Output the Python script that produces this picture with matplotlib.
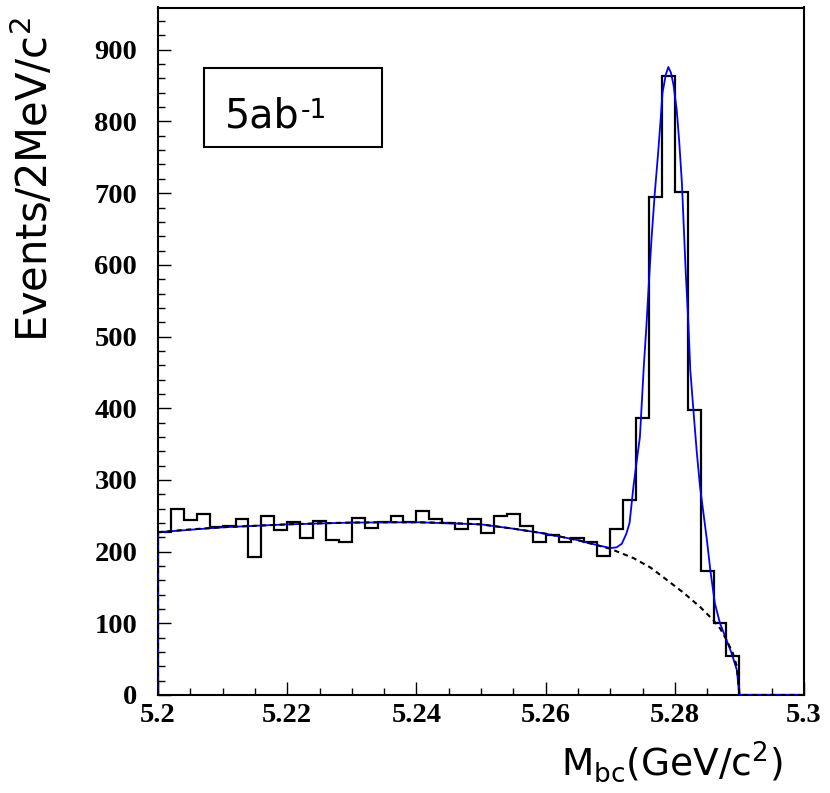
import matplotlib
matplotlib.use("Agg")
import matplotlib.pyplot as plt
from matplotlib.ticker import MultipleLocator, FixedLocator
from matplotlib.patches import Rectangle
import numpy as np

plt.rcParams['mathtext.default'] = 'regular'

# ---------------- data ----------------
bin_low = 5.20
bin_width = 0.002
counts = [227, 260, 244, 252, 234, 236, 245, 193, 249, 230,
          241, 219, 243, 216, 214, 247, 233, 241, 249, 241,
          256, 246, 240, 232, 245, 226, 249, 253, 236, 214,
          223, 214, 219, 213, 194, 232, 272, 387, 695, 864,
          702, 398, 173, 101, 55, 0, 0, 0, 0, 0]

# total fit (signal + background)
fit_x = [5.200, 5.210, 5.220, 5.230, 5.240, 5.250, 5.255, 5.260, 5.265, 5.268,
         5.2700, 5.2710, 5.2718, 5.2725, 5.2730, 5.2736, 5.2741, 5.2746, 5.2749, 5.2752,
         5.2756, 5.2760, 5.2764, 5.2769, 5.2774, 5.2778, 5.2781, 5.2786, 5.2790, 5.2794,
         5.2798, 5.2803, 5.2807, 5.2811, 5.2814, 5.2817, 5.2821, 5.2824, 5.2829, 5.2834,
         5.2839, 5.2845, 5.2850, 5.2855, 5.2862, 5.2870, 5.2880, 5.2888, 5.2896, 5.2900,
         5.3000]
fit_y = [227, 234, 238, 240.5, 241, 238, 232, 225, 216, 209,
         205, 206, 211, 225, 240, 291, 326, 360, 409, 458,
         514, 577, 637, 700, 754, 802, 840, 865, 876, 868,
         851, 816, 770, 714, 651, 588, 519, 453, 395, 339,
         291, 249, 214, 174, 128, 100, 77, 58, 35, 0,
         0]

# background (dashed black curve)
bg_x = [5.200, 5.205, 5.210, 5.215, 5.220, 5.225, 5.230, 5.235, 5.240, 5.245,
        5.250, 5.255, 5.260, 5.265, 5.270, 5.2736, 5.2762, 5.2787, 5.2813, 5.2839,
        5.2859, 5.2870, 5.2880, 5.2890, 5.2896, 5.2900, 5.3000]
bg_y = [227, 231, 234, 236, 238, 239.5, 240.5, 241, 241, 240,
        238, 232, 225, 216, 204, 191, 178, 161, 143, 123,
        105, 93, 77, 58, 40, 0, 0]

x_ticks = [5.20, 5.22, 5.24, 5.26, 5.28, 5.30]
x_tick_labels = ['5.2', '5.22', '5.24', '5.26', '5.28', '5.3']
y_ticks = [0, 100, 200, 300, 400, 500, 600, 700, 800, 900]

ylabel = r'Events/2MeV/c$^{2}$'
xlabel = r'M$_{bc}$(GeV/c$^{2}$)'
lumi_main = '5ab'
lumi_sup = '-1'

# ---------------- figure ----------------
W, H = 830, 793
fig = plt.figure(figsize=(W / 100, H / 100), dpi=100)
ax = fig.add_axes([158 / W, 1 - 695 / H, (804 - 158) / W, (695 - 7.5) / H])

edges = bin_low + bin_width * np.arange(len(counts) + 1)
ax.stairs(counts, edges, color='black', linewidth=1.6, baseline=0, zorder=3)

ax.plot(fit_x, fit_y, color='#0000ff', linewidth=1.3, zorder=4)
ax.plot([fit_x[0], fit_x[0]], [0, fit_y[0]], color='#0000ff', linewidth=1.3, zorder=4)

ax.plot(bg_x, bg_y, color='black', linewidth=1.5, linestyle=(0, (2.5, 2.0)), zorder=5)
ax.plot([bg_x[0], bg_x[0]], [0, bg_y[0]], color='black', linewidth=1.5,
        linestyle=(0, (2.5, 2.0)), zorder=5)

ax.set_xlim(5.2, 5.3)
ax.set_ylim(0, 959)

ax.xaxis.set_major_locator(FixedLocator(x_ticks))
ax.set_xticklabels(x_tick_labels)
ax.xaxis.set_minor_locator(MultipleLocator(0.005))
ax.yaxis.set_major_locator(FixedLocator(y_ticks))
ax.set_yticklabels([str(v) for v in y_ticks])
ax.yaxis.set_minor_locator(MultipleLocator(20))

ax.tick_params(axis='both', which='both', direction='in', top=False, right=False)
ax.tick_params(axis='both', which='major', length=9.5, width=1.0)
ax.tick_params(axis='both', which='minor', length=5, width=1.0)
ax.tick_params(axis='x', which='major', pad=6)
ax.tick_params(axis='y', which='major', pad=15)

for lab in ax.get_xticklabels() + ax.get_yticklabels():
    lab.set_fontfamily('Liberation Serif')
    lab.set_fontweight('bold')
    lab.set_fontsize(20.5)

for s in ax.spines.values():
    s.set_linewidth(1.5)
    s.set_color('black')

# axis titles
fig.text(34 / W, 1 - 180 / H, ylabel, rotation=90, ha='center', va='center',
         fontsize=30, fontfamily='DejaVu Sans')
fig.text(783 / W, 1 - 775 / H, xlabel, ha='right', va='baseline',
         fontsize=27, fontfamily='DejaVu Sans')

# luminosity box
fig.patches.append(Rectangle((204 / W, 1 - 147 / H), 178 / W, 79 / H,
                             transform=fig.transFigure, fill=False,
                             edgecolor='black', linewidth=1.5))
t_main = fig.text(225 / W, 1 - 127 / H, lumi_main, ha='left', va='baseline',
                  fontsize=28.5, fontfamily='DejaVu Sans')
renderer = fig.canvas.get_renderer()
bb = t_main.get_window_extent(renderer)
fig.text((bb.x1 + 1) / W, 1 - 118 / H, lumi_sup, ha='left', va='baseline',
         fontsize=19, fontfamily='DejaVu Sans')

fig.savefig('out.png', dpi=100)
